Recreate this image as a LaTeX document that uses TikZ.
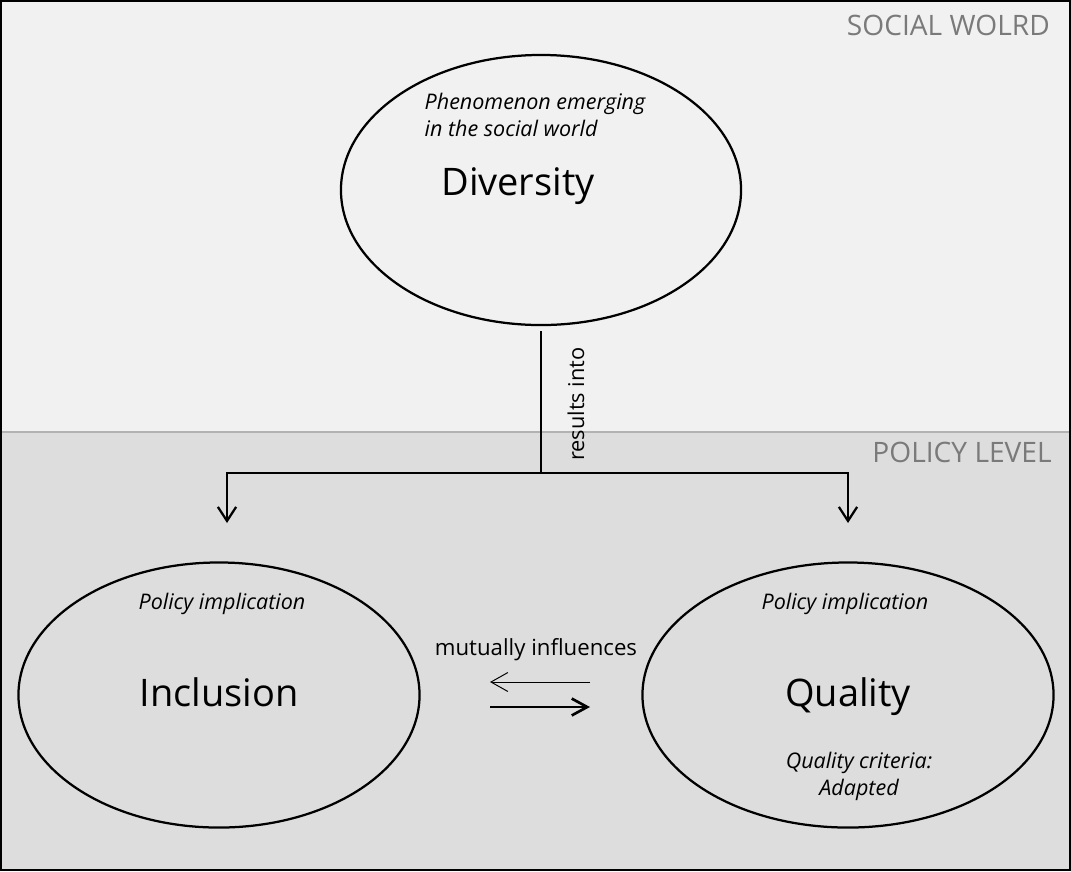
\documentclass[tikz,border=0pt]{standalone}
\usepackage{fontspec}
\setmainfont{Open Sans}
\usetikzlibrary{arrows.meta,shapes.geometric,positioning,calc}
\definecolor{worldbg}{HTML}{F1F1F1}
\definecolor{policybg}{HTML}{DDDDDD}
\definecolor{levelgray}{HTML}{7A7A7A}
\tikzset{
  bubble/.style={draw,ellipse,line width=1.6pt,inner sep=0pt},
  bigword/.style={font=\fontsize{27}{32}\selectfont,anchor=base},
  note/.style={font=\fontsize{15.3}{19}\selectfont\itshape,align=center,anchor=base},
  level/.style={font=\fontsize{20}{22}\selectfont,text=levelgray,anchor=base east,inner sep=0pt},
  link/.style={line width=1.6pt},
  linkarrow/.style={line width=1.6pt,-{Straight Barb[length=10pt,width=13pt]}}
}
\begin{document}
\begin{tikzpicture}[x=0.025cm,y=-0.025cm]
\useasboundingbox (0,0) rectangle (1071,871);
% two levels
\fill[worldbg] (0,0) rectangle (1071,432);
\fill[policybg] (0,432) rectangle (1071,871);
\draw[black!30,line width=1pt] (0,432) -- (1071,432);
\draw[line width=1.4pt] (1,1) rectangle (1070,870);
\node[level] (world) at (1050,35) {SOCIAL WOLRD};
\node[level] (policy) at (1052,462) {POLICY LEVEL};
% ellipses
\node[bubble,minimum width=10cm,minimum height=6.75cm] (div) at (541,190) {};
\node[bubble,minimum width=10.025cm,minimum height=6.625cm] (incl) at (219,695) {};
\node[bubble,minimum width=10.275cm,minimum height=6.625cm] (qual) at (848,695) {};
% texts
\node[note,align=left] (divnote) at (535,136) {Phenomenon emerging\\in the social world};
\node[bigword] (divword) at (518,195) {Diversity};
\node[note] (inclnote) at (222,609) {Policy implication};
\node[bigword] (inclword) at (219,706) {Inclusion};
\node[note] (qualnote) at (845,609) {Policy implication};
\node[bigword] (qualword) at (848,706) {Quality};
\node[note] (qualcrit) at (859,795) {Quality criteria:\\Adapted};
% results into
\coordinate (split) at (541,473);
\coordinate (inclin) at (227,523);
\coordinate (qualin) at (848,523);
\draw[link] ($(div.south)+(0,5)$) -- (split);
\draw[linkarrow] (split) -| (inclin);
\draw[linkarrow] (split) -| (qualin);
\node[rotate=90,font=\fontsize{15.5}{18}\selectfont] (results) at (576,404) {results into};
% mutually influences
\node[font=\fontsize{15.8}{18}\selectfont,anchor=base] (mutual) at (536,655) {mutually influences};
\coordinate (backfrom) at (590,682);
\coordinate (backto) at (490,682);
\coordinate (forthfrom) at (490,707);
\coordinate (forthto) at (590,707);
\draw[line width=0.7pt,-{Straight Barb[length=12pt,width=13.5pt]}] (backfrom) -- (backto);
\draw[line width=1.9pt,-{Straight Barb[length=11pt,width=12pt]}] (forthfrom) -- (forthto);
\end{tikzpicture}
\end{document}
